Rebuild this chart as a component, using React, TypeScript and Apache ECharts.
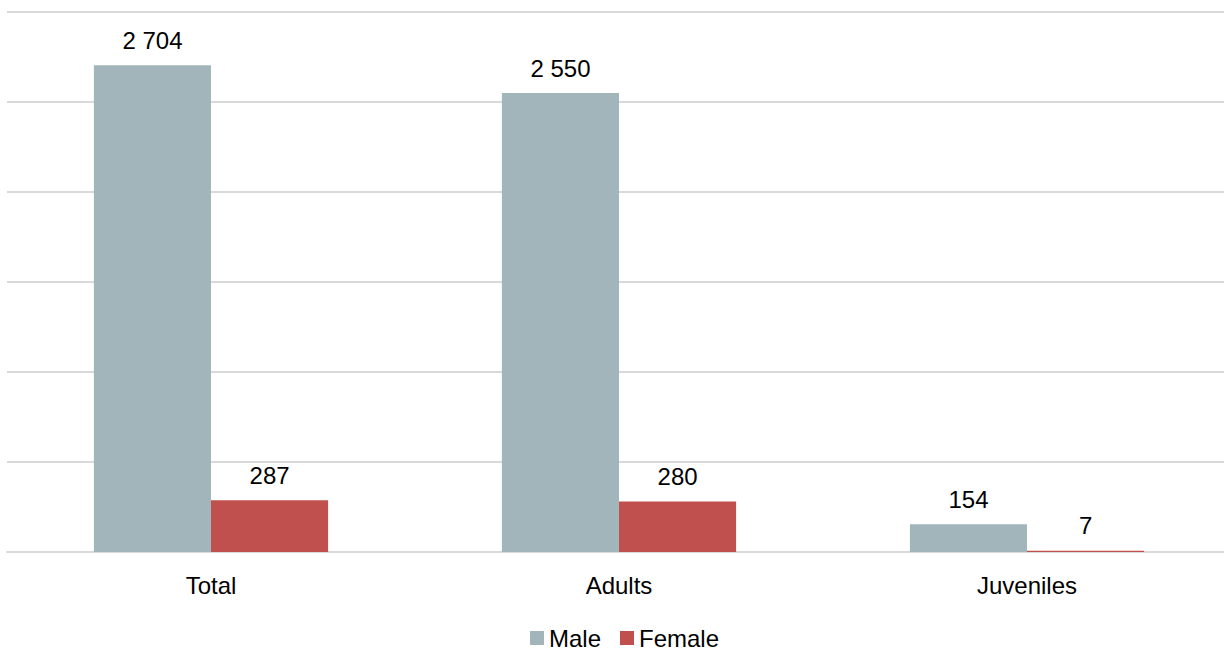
import React, { useEffect, useRef } from "react";
import * as echarts from "echarts";

const categories = ["Total", "Adults", "Juveniles"];
const maleValues = [2704, 2550, 154];
const femaleValues = [287, 280, 7];
const seriesNames = ["Male", "Female"];

const fmt = (v: number) => String(v).replace(/\B(?=(\d{3})+(?!\d))/g, " ");

export default function App() {
  const ref = useRef<HTMLDivElement>(null);
  useEffect(() => {
    document.body.style.margin = "0";
    document.body.style.overflow = "hidden";
    if (!ref.current) return;
    const chart = echarts.init(ref.current, null, { renderer: "svg" });
    const font = "'Liberation Sans', Arial, sans-serif";
    const label = {
      show: true,
      position: "top" as const,
      distance: 13,
      fontSize: 24,
      color: "#000",
      fontFamily: font,
      formatter: (p: any) => fmt(p.value),
    };
    chart.setOption({
      animation: false,
      textStyle: { fontFamily: font },
      grid: { left: 7, right: 0, top: 12, bottom: 98, containLabel: false },
      legend: {
        top: 626,
        left: 530,
        padding: 0,
        itemWidth: 14,
        itemHeight: 14,
        itemGap: 19,
        icon: "rect",
        textStyle: { fontSize: 24, color: "#000", fontFamily: font },
        data: seriesNames,
      },
      xAxis: {
        type: "category",
        data: categories,
        axisTick: { show: false },
        axisLine: { lineStyle: { color: "#d9d9d9", width: 2 } },
        axisLabel: { fontSize: 24, color: "#000", margin: 21, fontFamily: font },
      },
      yAxis: {
        type: "value",
        min: 0,
        max: 3000,
        interval: 500,
        axisLabel: { show: false },
        axisLine: { show: false },
        axisTick: { show: false },
        splitLine: { lineStyle: { color: "#d9d9d9", width: 2 } },
      },
      series: [
        {
          name: seriesNames[0],
          type: "bar",
          data: maleValues,
          barWidth: "28.7%",
          barGap: "0%",
          itemStyle: { color: "#A2B5BB" },
          label,
        },
        {
          name: seriesNames[1],
          type: "bar",
          data: femaleValues,
          barWidth: "28.7%",
          barGap: "0%",
          itemStyle: { color: "#C0504D" },
          label,
        },
      ],
    });
    return () => chart.dispose();
  }, []);
  return (
    <div style={{ width: 1224, height: 650, overflow: "hidden" }}>
      <div ref={ref} style={{ width: 1231, height: 650 }} />
    </div>
  );
}
